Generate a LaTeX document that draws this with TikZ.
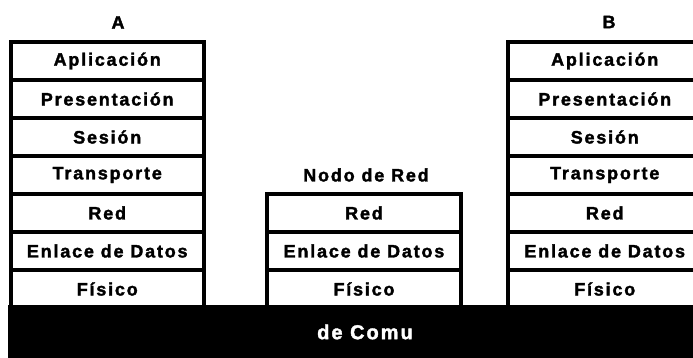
\documentclass[tikz,border=0pt]{standalone}
\usepackage{fontspec}
\setmainfont{Liberation Sans}[LetterSpace=10, BoldFeatures={FakeBold=1.8}]
\usepackage{tikz}
\usetikzlibrary{
  positioning
}

\begin{document}
\begin{tikzpicture}[
  x=1pt, y=-1pt,
  layer/.style={
    draw, line width=4pt,
    minimum width=193.5pt, minimum height=38pt,
    inner sep=0pt, outer sep=0pt,
    font=\bfseries\fontsize{18}{20}\selectfont
  },
  title/.style={
    font=\bfseries\fontsize{18}{20}\selectfont
  }
]
  % Page: 693 x 358, the right stack runs off the edge
  \useasboundingbox (0,0) rectangle (693,358);
  \clip (0,0) rectangle (693,358);

  % Stack A
  \node[title] (tA) at (118,22.5) {A};
  \node[layer] (a1) at (107.25,61) {Aplicación};
  \node[layer, below=0pt of a1] (a2) {Presentación};
  \node[layer, below=0pt of a2] (a3) {Sesión};
  \node[layer, below=0pt of a3] (a4) {Transporte};
  \node[layer, below=0pt of a4] (a5) {Red};
  \node[layer, below=0pt of a5] (a6) {Enlace de Datos};
  \node[layer, below=0pt of a6] (a7) {Físico};

  % Network node (only the three lower layers)
  \node[title] (tN) at (366,175) {Nodo de Red};
  \node[layer] (n5) at (364,213) {Red};
  \node[layer, below=0pt of n5] (n6) {Enlace de Datos};
  \node[layer, below=0pt of n6] (n7) {Físico};

  % Stack B
  \node[title] (tB) at (609,22) {B};
  \node[layer] (b1) at (604.75,61) {Aplicación};
  \node[layer, below=0pt of b1] (b2) {Presentación};
  \node[layer, below=0pt of b2] (b3) {Sesión};
  \node[layer, below=0pt of b3] (b4) {Transporte};
  \node[layer, below=0pt of b4] (b5) {Red};
  \node[layer, below=0pt of b5] (b6) {Enlace de Datos};
  \node[layer, below=0pt of b6] (b7) {Físico};

  % Medium bar along the bottom
  \fill[black] (8,305) rectangle (693,358);
  \node[title, text=white, font=\bfseries\fontsize{20}{22}\selectfont]
    (medio) at (365,332) {de Comu};
\end{tikzpicture}
\end{document}
